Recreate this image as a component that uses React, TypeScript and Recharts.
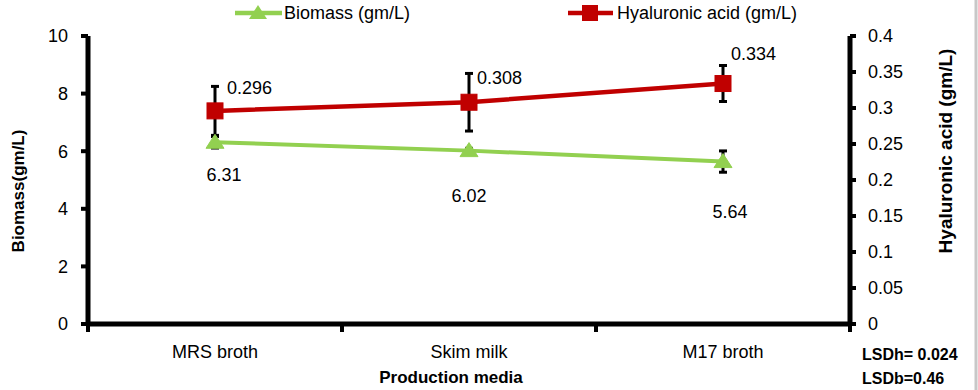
import React from 'react';
import { ComposedChart, Line, XAxis, YAxis, ErrorBar, LabelList } from 'recharts';

const categories = ['MRS broth', 'Skim milk', 'M17 broth'];
const biomass = [6.31, 6.02, 5.64];
const biomassErr = [0.2, 0.08, 0.37];
const hyaluronic = [0.296, 0.308, 0.334];
const hyaluronicErr = [0.034, 0.04, 0.025];
const leftTicks = [0, 2, 4, 6, 8, 10];
const rightTicks = [0, 0.05, 0.1, 0.15, 0.2, 0.25, 0.3, 0.35, 0.4];
const xTicks = [0, 0.5, 1, 1.5, 2, 2.5, 3];

const bioLabelOffset = [
  { dx: 9, dy: 33 },
  { dx: 0, dy: 45 },
  { dx: 7, dy: 50 },
];
const haLabelOffset = [
  { dx: 12, dy: -23 },
  { dx: 8, dy: -24 },
  { dx: 8, dy: -30 },
];

const data = categories.map((name, i) => ({
  name,
  x: i + 0.5,
  bio: biomass[i],
  bioErr: biomassErr[i],
  ha: hyaluronic[i],
  haErr: hyaluronicErr[i],
}));

const GREEN = '#92D050';
const RED = '#C00000';
const FONT = '"Liberation Sans", Arial, sans-serif';

const Triangle = (props: any) => {
  const { cx, cy, index } = props;
  if (cx == null || cy == null) return <g key={`t${index}`} />;
  return (
    <polygon
      key={`t${index}`}
      points={`${cx},${cy - 8} ${cx + 9},${cy + 6} ${cx - 9},${cy + 6}`}
      fill={GREEN}
      stroke={GREEN}
    />
  );
};

const Square = (props: any) => {
  const { cx, cy, index } = props;
  if (cx == null || cy == null) return <g key={`s${index}`} />;
  return <rect key={`s${index}`} x={cx - 8} y={cy - 8} width={16} height={16} fill={RED} stroke={RED} />;
};

const XTick = (props: any) => {
  const { x, y, payload } = props;
  const v = payload.value as number;
  if (Number.isInteger(v)) {
    return <line x1={x} y1={y} x2={x} y2={y + 8} stroke="#000" strokeWidth={4} />;
  }
  const idx = Math.floor(v);
  return (
    <text x={x} y={y + 34} textAnchor="middle" fill="#000" fontSize={18} fontFamily={FONT}>
      {categories[idx]}
    </text>
  );
};

const bioLabel = (props: any) => {
  const { x, y, value, index } = props;
  const o = bioLabelOffset[index] || { dx: 0, dy: 40 };
  return (
    <text x={x + o.dx} y={y + o.dy} textAnchor="middle" dominantBaseline="central" fill="#000" fontSize={18} fontFamily={FONT}>
      {Number(value).toFixed(2)}
    </text>
  );
};

const haLabel = (props: any) => {
  const { x, y, value, index } = props;
  const o = haLabelOffset[index] || { dx: 8, dy: -25 };
  return (
    <text x={x + o.dx} y={y + o.dy} textAnchor="start" dominantBaseline="central" fill="#000" fontSize={18} fontFamily={FONT}>
      {Number(value).toFixed(3)}
    </text>
  );
};

export default function App() {
  return (
    <div style={{ position: 'absolute', left: 0, top: 0, width: 978, height: 390, background: '#fff', fontFamily: FONT }}>
      <ComposedChart
        width={978}
        height={390}
        data={data}
        margin={{ top: 36, right: 0, bottom: 0, left: 0 }}
        style={{ fontFamily: FONT }}
      >
        <XAxis
          dataKey="x"
          type="number"
          domain={[0, 3]}
          ticks={xTicks}
          interval={0}
          height={66}
          tickSize={0}
          tickMargin={0}
          tickLine={false}
          axisLine={{ stroke: '#000', strokeWidth: 5 }}
          tick={<XTick />}
        />
        <YAxis
          yAxisId="left"
          orientation="left"
          width={88}
          domain={[0, 10]}
          ticks={leftTicks}
          interval={0}
          tickSize={7}
          tickMargin={13}
          axisLine={{ stroke: '#000', strokeWidth: 5 }}
          tickLine={{ stroke: '#000', strokeWidth: 4 }}
          tick={{ fill: '#000', fontSize: 18, fontFamily: FONT }}
        />
        <YAxis
          yAxisId="right"
          orientation="right"
          width={128}
          domain={[0, 0.4]}
          ticks={rightTicks}
          interval={0}
          tickSize={6}
          tickMargin={12}
          axisLine={{ stroke: '#000', strokeWidth: 5 }}
          tickLine={{ stroke: '#000', strokeWidth: 4 }}
          tick={{ fill: '#000', fontSize: 18, fontFamily: FONT }}
        />
        <Line
          yAxisId="left"
          dataKey="bio"
          type="linear"
          stroke={GREEN}
          strokeWidth={4}
          dot={Triangle}
          activeDot={false}
          isAnimationActive={false}
        >
          <ErrorBar dataKey="bioErr" direction="y" width={4} stroke="#000" strokeWidth={3} />
          <LabelList dataKey="bio" content={bioLabel} />
        </Line>
        <Line
          yAxisId="right"
          dataKey="ha"
          type="linear"
          stroke={RED}
          strokeWidth={4.5}
          dot={Square}
          activeDot={false}
          isAnimationActive={false}
        >
          <ErrorBar dataKey="haErr" direction="y" width={4} stroke="#000" strokeWidth={3} />
          <LabelList dataKey="ha" content={haLabel} />
        </Line>
      </ComposedChart>
      <svg
        width={978}
        height={390}
        style={{ position: 'absolute', left: 0, top: 0, pointerEvents: 'none' }}
        fontFamily={FONT}
      >
        {/* legend */}
        <line x1={235} y1={13} x2={282} y2={13} stroke={GREEN} strokeWidth={4.5} />
        <polygon points="258,5 267,19 249,19" fill={GREEN} />
        <text x={284} y={13} dominantBaseline="central" fontSize={18} fill="#000">Biomass (gm/L)</text>
        <line x1={568} y1={13} x2={613} y2={13} stroke={RED} strokeWidth={4.5} />
        <rect x={582} y={5} width={16} height={16} fill={RED} />
        <text x={617} y={13} dominantBaseline="central" fontSize={18} fill="#000">Hyaluronic acid (gm/L)</text>
        {/* axis titles */}
        <text
          x={18}
          y={191}
          transform="rotate(-90 18 191)"
          textAnchor="middle"
          dominantBaseline="central"
          fontSize={17}
          fontWeight="bold"
          fill="#000"
        >
          Biomass(gm/L)
        </text>
        <text
          x={945}
          y={151}
          transform="rotate(-90 945 151)"
          textAnchor="middle"
          dominantBaseline="central"
          fontSize={19}
          fontWeight="bold"
          fill="#000"
        >
          Hyaluronic acid (gm/L)
        </text>
        <text x={451} y={377} textAnchor="middle" dominantBaseline="central" fontSize={17} fontWeight="bold" fill="#000">
          Production media
        </text>
        <text x={862} y={354} dominantBaseline="central" fontSize={16} fontWeight="bold" fill="#000">LSDh= 0.024</text>
        <text x={862} y={378} dominantBaseline="central" fontSize={16} fontWeight="bold" fill="#000">LSDb=0.46</text>
        <line x1={976} y1={0} x2={976} y2={390} stroke="#c8c8c8" strokeWidth={3} />
      </svg>
    </div>
  );
}
